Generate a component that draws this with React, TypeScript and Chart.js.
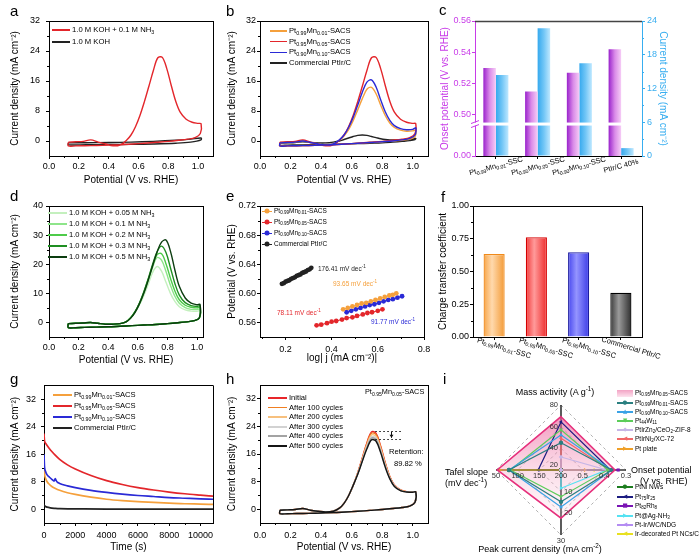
import React, { useEffect, useRef } from "react";
import { Chart, registerables } from "chart.js";

Chart.register(...registerables);

const FONT = "'Liberation Sans', Arial, Helvetica, sans-serif";
Chart.defaults.font.family = FONT;

/* ===================== DATA ===================== */
// CV potential grid (forward scan, then reverse scan)
const cvForwardV = [0.13, 0.18, 0.23, 0.28, 0.33, 0.38, 0.43, 0.48, 0.52, 0.55, 0.58, 0.61, 0.64, 0.67, 0.7, 0.73, 0.76, 0.79, 0.82, 0.85, 0.88, 0.92, 0.96, 1.0, 1.02];
const cvReverseV = [1.015, 0.98, 0.93, 0.87, 0.8, 0.72, 0.64, 0.56, 0.48, 0.4, 0.32, 0.24, 0.18, 0.13, 0.13];

// (a)
const aLegend = ["1.0 M KOH + 0.1 M NH_{3}", "1.0 M KOH"];
const aNH3Fwd = [-0.3, -0.2, -0.1, 0.3, -0.3, -0.8, -1.3, -1.0, 0.2, 1.6, 3.8, 6.8, 10.5, 14.6, 18.8, 22.2, 22.3, 19.3, 14.8, 10.6, 7.7, 5.8, 5.0, 4.7, 4.6];
const aNH3Rev = [2.0, 0.9, 0.5, 0.2, -0.1, -0.35, -0.6, -0.8, -1.0, -1.1, -1.2, -1.25, -1.3, -1.3, -0.3];
const aKohV = [0.13, 0.25, 0.4, 0.55, 0.7, 0.85, 0.95, 1.02, 1.02, 0.95, 0.85, 0.7, 0.55, 0.4, 0.25, 0.13, 0.13];
const aKohJ = [-0.5, -0.45, -0.4, -0.3, -0.1, 0.2, 0.5, 0.8, 0.3, -0.3, -0.6, -0.8, -0.9, -0.95, -1.0, -1.0, -0.5];

// (b)
const bLegend = ["Pt_{0.99}Mn_{0.01}-SACS", "Pt_{0.95}Mn_{0.05}-SACS", "Pt_{0.90}Mn_{0.10}-SACS", "Commercial PtIr/C"];
const b099Fwd = [-0.5, -0.4, -0.3, 0.0, -0.4, -0.8, -1.1, -0.8, 0.2, 1.3, 3.0, 5.4, 8.3, 11.3, 13.8, 14.3, 12.6, 9.6, 6.8, 4.8, 3.6, 2.9, 2.6, 2.7, 2.9];
const b099Rev = [1.2, 0.5, 0.2, 0.0, -0.2, -0.4, -0.6, -0.8, -1.0, -1.1, -1.2, -1.25, -1.3, -1.3, -0.5];
const b090Fwd = [-0.5, -0.4, -0.3, 0.0, -0.4, -0.8, -1.1, -0.8, 0.3, 1.6, 3.6, 6.3, 9.6, 13.0, 15.7, 16.3, 14.4, 11.0, 7.8, 5.5, 4.1, 3.3, 3.0, 3.1, 3.5];
const b090Rev = [1.6, 0.7, 0.3, 0.0, -0.2, -0.4, -0.6, -0.8, -1.0, -1.1, -1.2, -1.25, -1.3, -1.3, -0.5];
const bComFwd = [-0.6, -0.5, -0.4, -0.2, -0.4, -0.5, -0.5, -0.3, 0.0, 0.4, 0.8, 1.2, 1.5, 1.6, 1.5, 1.2, 0.9, 0.6, 0.4, 0.3, 0.3, 0.3, 0.4, 0.6, 0.7];
const bComRev = [0.4, 0.1, -0.1, -0.3, -0.5, -0.6, -0.7, -0.8, -0.9, -1.0, -1.0, -1.05, -1.1, -1.1, -0.6];

// (c)
const cCategories = ["Pt_{0.99}Mn_{0.01}-SSC", "Pt_{0.95}Mn_{0.05}-SSC", "Pt_{0.90}Mn_{0.10}-SSC", "PtIr/C 40%"];
const cOnset = [0.53, 0.515, 0.527, 0.542];
const cCurrent = [14.4, 22.7, 16.5, 1.4];
const cLeftMin = 0.4738; // axis bottom shown as "0.00" (broken axis)
const cBreakAt = 0.4942;
const cLeftTicks = [0.4738, 0.5, 0.52, 0.54, 0.56];
const cRightTicks = [0, 6, 12, 18, 24];

// (d)
const dLegend = ["1.0 M KOH + 0.05 M NH_{3}", "1.0 M KOH + 0.1 M NH_{3}", "1.0 M KOH + 0.2 M NH_{3}", "1.0 M KOH + 0.3 M NH_{3}", "1.0 M KOH + 0.5 M NH_{3}"];
const d005Fwd = [-0.4, -0.3, -0.2, 0.0, -0.3, -0.6, -0.6, -0.4, 0.2, 1.4, 3.3, 5.9, 9.2, 13.0, 17.2, 19.2, 17.6, 13.8, 10.0, 7.2, 5.4, 4.3, 3.9, 3.8, 4.0];
const d01Fwd = [-0.4, -0.3, -0.2, 0.0, -0.3, -0.6, -0.6, -0.4, 0.2, 1.5, 3.5, 6.3, 10.0, 14.4, 19.0, 22.3, 21.4, 17.5, 12.8, 9.0, 6.6, 5.1, 4.5, 4.4, 4.6];
const d02Fwd = [-0.4, -0.3, -0.2, 0.0, -0.3, -0.6, -0.6, -0.4, 0.2, 1.5, 3.6, 6.5, 10.3, 14.8, 19.6, 23.3, 23.6, 20.2, 15.2, 10.8, 7.8, 5.9, 5.2, 5.0, 5.2];
const d03Fwd = [-0.4, -0.3, -0.2, 0.0, -0.3, -0.6, -0.6, -0.4, 0.2, 1.5, 3.6, 6.6, 10.5, 15.0, 20.0, 24.3, 26.2, 24.0, 18.8, 13.4, 9.4, 6.8, 5.8, 5.5, 5.7];
const d05Fwd = [-0.4, -0.3, -0.2, 0.0, -0.3, -0.6, -0.6, -0.4, 0.2, 1.4, 3.4, 6.3, 10.0, 14.5, 19.5, 24.2, 27.6, 28.3, 24.5, 18.0, 12.4, 8.4, 6.6, 6.1, 6.2];
const dRev = [1.5, 0.6, 0.2, -0.1, -0.4, -0.7, -0.9, -1.1, -1.3, -1.5, -1.6, -1.7, -1.8, -1.8, -0.4];

// (e) Tafel plots
const eLegend = ["Pt_{0.99}Mn_{0.01}-SACS", "Pt_{0.95}Mn_{0.05}-SACS", "Pt_{0.90}Mn_{0.10}-SACS", "Commercial PtIr/C"];
const eSlopes = ["93.65 mV dec^{-1}", "78.11 mV dec^{-1}", "91.77 mV dec^{-1}", "176.41 mV dec^{-1}"];
const e099X = [0.45, 0.47, 0.49, 0.51, 0.53, 0.55, 0.57, 0.59, 0.61, 0.63, 0.65, 0.665, 0.68];
const e099Y = [0.578, 0.58, 0.582, 0.584, 0.586, 0.587, 0.589, 0.591, 0.593, 0.595, 0.597, 0.598, 0.6];
const e095X = [0.335, 0.355, 0.38, 0.4, 0.42, 0.445, 0.465, 0.49, 0.51, 0.535, 0.555, 0.575, 0.6, 0.62];
const e095Y = [0.556, 0.557, 0.559, 0.561, 0.562, 0.564, 0.566, 0.567, 0.569, 0.571, 0.573, 0.574, 0.576, 0.578];
const e090X = [0.465, 0.485, 0.505, 0.525, 0.545, 0.565, 0.585, 0.605, 0.625, 0.645, 0.665, 0.685, 0.705];
const e090Y = [0.574, 0.576, 0.578, 0.58, 0.582, 0.584, 0.585, 0.587, 0.589, 0.591, 0.592, 0.594, 0.596];
const eComX = [0.185, 0.193, 0.201, 0.209, 0.217, 0.225, 0.233, 0.241, 0.249, 0.257, 0.265, 0.273, 0.281, 0.289, 0.297, 0.305, 0.312];
const eComY = [0.613, 0.614, 0.616, 0.617, 0.618, 0.62, 0.621, 0.622, 0.624, 0.625, 0.626, 0.628, 0.629, 0.63, 0.632, 0.633, 0.635];

// (f)
const fCategories = ["Pt_{0.99}Mn_{0.01}-SSC", "Pt_{0.95}Mn_{0.05}-SSC", "Pt_{0.90}Mn_{0.10}-SSC", "Commercial PtIr/C"];
const fValues = [0.634, 0.761, 0.647, 0.338];

// (g) chronoamperometry
const gLegend = ["Pt_{0.99}Mn_{0.01}-SACS", "Pt_{0.95}Mn_{0.05}-SACS", "Pt_{0.90}Mn_{0.10}-SACS", "Commercial PtIr/C"];
const gTime = [0, 30, 100, 200, 350, 500, 700, 1000, 1500, 2000, 3000, 4000, 5000, 6000, 7000, 8000, 9000, 10000, 10800];
const gJ099 = [13.0, 10.5, 9.0, 8.0, 7.2, 6.6, 6.1, 5.5, 4.8, 4.3, 3.5, 2.9, 2.5, 2.2, 2.0, 1.8, 1.6, 1.5, 1.4];
const gJ095 = [22.0, 20.0, 19.2, 18.5, 17.6, 16.8, 15.8, 14.5, 12.9, 11.7, 9.8, 8.3, 7.2, 6.3, 5.6, 5.0, 4.5, 4.1, 3.8];
const gTime090 = [0, 30, 100, 200, 350, 500, 650, 720, 780, 850, 1000, 1500, 2000, 3000, 4000, 5000, 6000, 7000, 8000, 9000, 10000, 10800];
const gJ090 = [16.0, 12.5, 11.0, 10.0, 9.3, 8.7, 8.2, 8.9, 8.3, 7.9, 7.5, 6.8, 6.3, 5.5, 4.9, 4.4, 4.0, 3.7, 3.4, 3.2, 3.0, 2.9];
const gTimeCom = [0, 30, 100, 200, 400, 700, 1000, 2000, 4000, 6000, 8000, 10800];
const gJCom = [1.3, 1.1, 0.8, 0.6, 0.4, 0.25, 0.15, 0.1, 0.05, 0.05, 0.05, 0.05];

// (h) cycling
const hLegend = ["Initial", "After 100 cycles", "After 200 cycles", "After 300 cycles", "After 400 cycles", "After 500 cycles"];
const h0Fwd = [-0.3, -0.2, -0.1, 0.2, -0.3, -0.6, -0.8, -0.6, 0.3, 1.7, 3.9, 6.9, 10.6, 14.9, 19.3, 22.4, 22.0, 18.3, 13.5, 9.5, 7.0, 5.6, 5.1, 4.9, 5.0];
const h100Fwd = [-0.3, -0.2, -0.1, 0.2, -0.3, -0.6, -0.8, -0.6, 0.3, 1.7, 3.9, 6.9, 10.5, 14.7, 19.0, 22.0, 21.6, 18.0, 13.3, 9.4, 6.9, 5.5, 5.1, 4.9, 5.0];
const h200Fwd = [-0.3, -0.2, -0.1, 0.2, -0.3, -0.6, -0.8, -0.6, 0.3, 1.7, 3.9, 6.9, 10.4, 14.5, 18.6, 21.5, 21.1, 17.6, 13.0, 9.2, 6.8, 5.5, 5.0, 4.9, 5.0];
const h300Fwd = [-0.3, -0.2, -0.1, 0.2, -0.3, -0.6, -0.8, -0.6, 0.3, 1.7, 3.9, 6.9, 10.3, 14.3, 18.2, 21.0, 20.6, 17.2, 12.8, 9.1, 6.8, 5.4, 5.0, 4.9, 5.0];
const h400Fwd = [-0.3, -0.2, -0.1, 0.2, -0.3, -0.6, -0.8, -0.6, 0.3, 1.7, 3.9, 6.9, 10.2, 14.1, 17.9, 20.6, 20.2, 16.8, 12.5, 9.0, 6.7, 5.4, 5.0, 4.9, 5.0];
const h500Fwd = [-0.3, -0.2, -0.1, 0.2, -0.3, -0.6, -0.8, -0.6, 0.3, 1.7, 3.9, 6.9, 10.1, 13.9, 17.5, 20.1, 19.7, 16.4, 12.2, 8.8, 6.6, 5.4, 5.0, 4.9, 5.0];
const hRev = [2.0, 0.9, 0.5, 0.2, -0.1, -0.35, -0.6, -0.8, -1.0, -1.1, -1.2, -1.25, -1.3, -1.3, -0.3];
const hPeakLevels = [22.7, 20.4];
const hMarkX = [0.755, 0.935];
const hArrowX = 0.86;

// (i) radar
const radarMin = [20, 0.6, 0, 200];
const radarMax = [80, 0.3, 30, 50];
const radarTicks = [[20, 40, 60, 80], [0.5, 0.4, 0.3], [10, 20, 30], [200, 150, 100, 50]];
const radarNames = ["Pt_{0.95}Mn_{0.05}-SACS", "Pt_{0.99}Mn_{0.01}-SACS", "Pt_{0.90}Mn_{0.10}-SACS", "Pt_{44}W_{11}", "PtIrZn_{2}/CeO_{2}-ZIF-8", "PtIrNi_{2}/XC-72", "Pt plate", "PtNi NWs", "Pt_{75}Ir_{25}", "Pt_{82}Rh_{8}", "Pt@Ag-NH_{3}", "Pt-Ir/WC/NDG", "Ir-decorated Pt NCs/C"];
const radarColors = ["#e6307c", "#2a7f80", "#3aa2e6", "#5ccd5a", "#c6b6e6", "#f06868", "#f0a028", "#1d7d1f", "#1c1c80", "#7a14b4", "#55e2f2", "#b48cf2", "#e8e020"];
const radarMass = [69.2, 45.2, 52.4, 57.2, 32, 49.4, 20, 20, 64.4, 20, 20, 20, 20];
const radarOnset = [0.351, 0.366, 0.366, 0.384, 0.39, 0.375, 0.489, 0.384, 0.372, 0.336, 0.39, 0.402, 0.45];
const radarPeak = [22.2, 14.7, 17.1, 12.3, 0, 0, 0, 0, 0, 0, 8.4, 0, 0];
const radarTafel = [53, 80, 80, 83, 200, 200, 59, 80, 147.5, 200, 200, 200, 200];
const radarStyle = ["circle", "circle", "triangle", "triangle", "rectRot", "triangle", "triangle", "circle", "triangle", "rect", "triangle", "triangle", "triangle"];
const radarRot = [0, 0, 0, 180, 0, -90, 90, 0, -90, 0, 90, -90, -90];
const radarGlyph = ["", "●", "▲", "▼", "◆", "◀", "▶", "●", "◀", "■", "▶", "◀", "◀"];

// tick arrays
const cvXTicks = [0, 0.2, 0.4, 0.6, 0.8, 1.0];
const abYTicks = [0, 8, 16, 24, 32];
const dYTicks = [0, 10, 20, 30, 40];
const eXTicks = [0.2, 0.4, 0.6, 0.8];
const eYTicks = [0.56, 0.6, 0.64, 0.68, 0.72];
const fYTicks = [0, 0.25, 0.5, 0.75, 1.0];
const gXTicks = [0, 2000, 4000, 6000, 8000, 10000];
const ghYTicks = [0, 8, 16, 24, 32];

/* ===================== STYLE ===================== */
const RED = "#e3262b";
const ORANGE = "#f5a03c";
const BLUE = "#2a2ad6";
const BLACK = "#222222";
const MAG = "#c83be8";
const SKY = "#38aef0";
const GREENS = ["#c4f0be", "#8ee58a", "#4ecb4a", "#1f8f22", "#0c3d10"];
const HCOL = ["#e8262a", "#f07f22", "#f7c07e", "#d2d2d2", "#a3a3a3", "#151515"];

const TICK = { family: FONT, size: 9 };
const TTL = { family: FONT, size: 10 };
const TLH = 12;

const f0 = (v: number) => String(Math.round(v * 100) / 100);
const f1 = (v: number) => Number(v).toFixed(1);
const f2 = (v: number) => Number(v).toFixed(2);
const plain = (s: string) => s.replace(/[_^]\{([^}]*)\}/g, "$1");

type Box = { x: number; y: number; w: number; h: number };
type Area = { l: number; t: number; r: number; b: number };

const BOX: Box[] = [
  { x: 0, y: 0, w: 225, h: 192 },
  { x: 222, y: 0, w: 215, h: 192 },
  { x: 432, y: 0, w: 268, h: 192 },
  { x: 0, y: 190, w: 225, h: 180 },
  { x: 222, y: 190, w: 215, h: 180 },
  { x: 432, y: 190, w: 268, h: 180 },
  { x: 0, y: 375, w: 225, h: 180 },
  { x: 222, y: 375, w: 215, h: 180 },
  { x: 440, y: 375, w: 260, h: 180 },
];
const AREA: Area[] = [
  { l: 49, t: 21, r: 213, b: 156 },
  { l: 260, t: 21, r: 428, b: 156 },
  { l: 475, t: 21, r: 642, b: 156 },
  { l: 49, t: 206, r: 203, b: 337 },
  { l: 260, t: 206, r: 424, b: 337 },
  { l: 473, t: 206, r: 642, b: 337 },
  { l: 44, t: 385, r: 213, b: 523 },
  { l: 260, t: 385, r: 428, b: 523 },
  { l: 496, t: 405, r: 626, b: 535 },
];

function xLinear(box: Box, area: Area, o: any) {
  const size = box.y + box.h - area.b;
  return {
    type: "linear",
    position: "bottom",
    min: o.min,
    max: o.max,
    afterBuildTicks: (s: any) => {
      s.ticks = o.ticks.map((v: number) => ({ value: v }));
    },
    afterFit: (s: any) => {
      s.height = size;
    },
    ticks: { font: TICK, color: "#000", padding: o.pad ?? 2, maxRotation: 0, autoSkip: false, callback: o.fmt },
    grid: { drawOnChartArea: false, drawTicks: true, tickLength: 3, tickColor: "#000", color: "#000" },
    border: { display: true, color: "#000", width: 1 },
    title: { display: true, text: o.title, font: TTL, color: "#000", padding: { top: 0, bottom: box.y + box.h - o.titleAt - TLH / 2 } },
  };
}

function yLinear(box: Box, area: Area, o: any) {
  const right = o.position === "right";
  const size = right ? box.x + box.w - area.r : area.l - box.x;
  const pad = right ? box.x + box.w - o.titleAt - TLH / 2 : o.titleAt - box.x - TLH / 2;
  const color = o.color || "#000";
  return {
    type: "linear",
    position: right ? "right" : "left",
    min: o.min,
    max: o.max,
    afterBuildTicks: (s: any) => {
      s.ticks = o.ticks.map((v: number) => ({ value: v }));
    },
    afterFit: (s: any) => {
      s.width = size;
    },
    ticks: { font: TICK, color, padding: o.pad ?? 3, autoSkip: false, callback: o.fmt },
    grid: { drawOnChartArea: false, drawTicks: true, tickLength: 3, tickColor: color, color },
    border: { display: true, color, width: 1 },
    title: { display: true, text: o.title, font: TTL, color, padding: { top: pad, bottom: 0 } },
  };
}

function xCategory(box: Box, area: Area) {
  const size = box.y + box.h - area.b;
  return {
    type: "category",
    offset: true,
    afterFit: (s: any) => {
      s.height = size;
    },
    ticks: { display: false },
    grid: { drawOnChartArea: false, drawTicks: true, tickLength: 3, tickColor: "#000", color: "#000", offset: false },
    border: { display: true, color: "#000", width: 1 },
  };
}

function baseOptions(box: Box, area: Area, scales: any, plugins: any = {}, dualY = false) {
  return {
    responsive: false,
    animation: false,
    devicePixelRatio: 1,
    events: [],
    layout: {
      autoPadding: false,
      padding: { left: 0, top: area.t - box.y, right: dualY ? 0 : box.x + box.w - area.r, bottom: 0 },
    },
    plugins: { legend: { display: false }, tooltip: { enabled: false }, ...plugins },
    scales,
  };
}

const px = (v: number) => Math.round(v) + 0.5;

const framePlugin = {
  id: "frame",
  afterDraw(chart: any, _a: any, opts: any) {
    const { ctx, chartArea: a } = chart;
    ctx.save();
    const seg = (x1: number, y1: number, x2: number, y2: number, c: string, w: number) => {
      ctx.strokeStyle = c;
      ctx.lineWidth = w;
      ctx.beginPath();
      ctx.moveTo(x1, y1);
      ctx.lineTo(x2, y2);
      ctx.stroke();
    };
    if (opts.top) seg(a.left, px(a.top), a.right, px(a.top), opts.top, opts.topWidth || 1);
    if (opts.right) seg(px(a.right), a.top, px(a.right), a.bottom, opts.right, 1);
    (opts.minor || []).forEach((id: string) => {
      const s = chart.scales[id];
      if (!s) return;
      const vals = s.ticks.map((t: any) => t.value);
      if (vals.length < 2) return;
      const step = vals[1] - vals[0];
      const mids = [vals[0] - step / 2, ...vals.map((v: number) => v + step / 2)];
      const col = s.options.border.color || "#000";
      mids.forEach((m: number) => {
        if (m <= s.min + 1e-9 || m >= s.max - 1e-9) return;
        const p = px(s.getPixelForValue(m));
        if (s.isHorizontal()) seg(p, a.bottom, p, a.bottom + 2, col, 1);
        else if (s.position === "left") seg(a.left - 2, p, a.left, p, col, 1);
        else seg(a.right, p, a.right + 2, p, col, 1);
      });
    });
    ctx.restore();
  },
};

const breakPlugin = {
  id: "axisBreak",
  afterDatasetsDraw(chart: any, _a: any, opts: any) {
    if (!opts || opts.value === undefined) return;
    const { ctx, chartArea: a } = chart;
    const s = chart.scales[opts.axis];
    const y = s.getPixelForValue(opts.value);
    ctx.save();
    ctx.fillStyle = "#fff";
    ctx.fillRect(a.left + 1, y - 1.5, a.right - a.left - 2, 3);
    ctx.restore();
  },
  afterDraw(chart: any, _a: any, opts: any) {
    if (!opts || opts.value === undefined) return;
    const { ctx, chartArea: a } = chart;
    const s = chart.scales[opts.axis];
    const y = s.getPixelForValue(opts.value);
    ctx.save();
    ctx.fillStyle = "#fff";
    ctx.fillRect(a.left - 4, y - 1.5, 8, 3);
    ctx.strokeStyle = opts.color;
    ctx.lineWidth = 1;
    [-2, 2].forEach((d) => {
      ctx.beginPath();
      ctx.moveTo(a.left - 4, y + d + 1.5);
      ctx.lineTo(a.left + 4, y + d - 1.5);
      ctx.stroke();
    });
    ctx.restore();
  },
};

const markPlugin = {
  id: "peakMark",
  afterDatasetsDraw(chart: any) {
    const { ctx } = chart;
    const xs = chart.scales.x;
    const ys = chart.scales.y;
    ctx.save();
    ctx.strokeStyle = "#111";
    ctx.lineWidth = 1;
    ctx.setLineDash([1.5, 2.5]);
    hPeakLevels.forEach((lv) => {
      const y = px(ys.getPixelForValue(lv));
      ctx.beginPath();
      ctx.moveTo(xs.getPixelForValue(hMarkX[0]), y);
      ctx.lineTo(xs.getPixelForValue(hMarkX[1]), y);
      ctx.stroke();
    });
    ctx.setLineDash([]);
    const ax = px(xs.getPixelForValue(hArrowX));
    const y1 = ys.getPixelForValue(hPeakLevels[0]) + 1;
    const y2 = ys.getPixelForValue(hPeakLevels[1]) - 1;
    ctx.beginPath();
    ctx.moveTo(ax, y1);
    ctx.lineTo(ax, y2);
    ctx.stroke();
    ctx.fillStyle = "#111";
    ctx.beginPath();
    ctx.moveTo(ax - 2, y2 - 3);
    ctx.lineTo(ax + 2, y2 - 3);
    ctx.lineTo(ax, y2);
    ctx.closePath();
    ctx.fill();
    ctx.restore();
  },
};

const radarTickPlugin = {
  id: "radarTicks",
  afterDraw(chart: any) {
    const s = chart.scales.r;
    const ctx = chart.ctx;
    ctx.save();
    ctx.font = `7.5px ${FONT}`;
    ctx.fillStyle = "#333";
    radarTicks.forEach((vals, k) => {
      vals.forEach((v) => {
        const frac = (v - radarMin[k]) / (radarMax[k] - radarMin[k]);
        const p = s.getPointPosition(k, s.getDistanceFromCenterForValue(frac));
        if (k === 0) {
          ctx.textAlign = "right";
          ctx.textBaseline = "middle";
          ctx.fillText(String(v), p.x - 3, p.y + (frac === 0 ? -5 : 0));
        } else if (k === 1) {
          ctx.textAlign = "center";
          ctx.textBaseline = "top";
          ctx.fillText(String(v), p.x, p.y + 2);
        } else if (k === 2) {
          ctx.textAlign = frac >= 0.99 ? "center" : "left";
          ctx.textBaseline = frac >= 0.99 ? "top" : "middle";
          ctx.fillText(String(v), frac >= 0.99 ? p.x : p.x + 3, frac >= 0.99 ? p.y + 2 : p.y);
        } else {
          ctx.textAlign = "center";
          ctx.textBaseline = "top";
          ctx.fillText(String(v), p.x, p.y + 2);
        }
      });
    });
    ctx.restore();
  },
};

function cvData(fwd: number[], rev: number[]) {
  const v = cvForwardV.concat(cvReverseV);
  const j = fwd.concat(rev);
  return v.map((x, i) => ({ x, y: j[i] }));
}
function pts(xs: number[], ys: number[]) {
  return xs.map((x, i) => ({ x, y: ys[i] }));
}
function lineDs(data: any[], color: string, width = 1.4, extra: any = {}) {
  return { data, borderColor: color, backgroundColor: color, borderWidth: width, pointRadius: 0, showLine: true, tension: 0.35, fill: false, ...extra };
}

function barGrad(stopsFor: (i: number) => [number, string][], offsetFrac: number, widthFrac: number) {
  return (ctx: any) => {
    const ch = ctx.chart;
    const i = ctx.dataIndex;
    const stops = stopsFor(i === undefined ? 0 : i);
    const xs = ch.scales.x;
    if (!ch.chartArea || !xs || i === undefined) return stops[0][1];
    const n = ch.data.labels.length;
    const cat = (ch.chartArea.right - ch.chartArea.left) / n;
    const cx = xs.getPixelForValue(i) + offsetFrac * cat;
    const w = widthFrac * cat;
    const g = ch.ctx.createLinearGradient(cx - w / 2, 0, cx + w / 2, 0);
    stops.forEach(([o, c]) => g.addColorStop(o, c));
    return g;
  };
}

const fStops: [number, string][][] = [
  [[0, "#f7a548"], [0.4, "#ffd9ad"], [1, "#f39a35"]],
  [[0, "#f23a3a"], [0.4, "#ff9a9a"], [1, "#ee2a2a"]],
  [[0, "#4646ee"], [0.4, "#9494ff"], [1, "#3a3ae6"]],
  [[0, "#3a3a3a"], [0.4, "#9a9a9a"], [1, "#2e2e2e"]],
];
const fBorders = ["#f08a1a", "#d40000", "#1c1ca0", "#000000"];

function makeConfigs() {
  const cfg: any[] = [];
  // (a)
  {
    const b = BOX[0], a = AREA[0];
    cfg.push({
      type: "scatter",
      data: { datasets: [lineDs(cvData(aNH3Fwd, aNH3Rev), RED), lineDs(pts(aKohV, aKohJ), BLACK)] },
      options: baseOptions(b, a, {
        x: xLinear(b, a, { min: 0, max: 1.1, ticks: cvXTicks, fmt: f1, title: "Potential (V vs. RHE)", titleAt: 180, pad: 2 }),
        y: yLinear(b, a, { min: -4, max: 32, ticks: abYTicks, fmt: f0, title: "Current density (mA cm⁻²)", titleAt: 15, pad: 6 }),
      }, { frame: { top: "#000", right: "#000", minor: ["x", "y"] } }),
      plugins: [framePlugin],
    });
  }
  // (b)
  {
    const b = BOX[1], a = AREA[1];
    cfg.push({
      type: "scatter",
      data: {
        datasets: [
          lineDs(cvData(b090Fwd, b090Rev), BLUE),
          lineDs(cvData(aNH3Fwd, aNH3Rev), RED),
          lineDs(cvData(b099Fwd, b099Rev), ORANGE),
          lineDs(cvData(bComFwd, bComRev), BLACK),
        ],
      },
      options: baseOptions(b, a, {
        x: xLinear(b, a, { min: 0, max: 1.1, ticks: cvXTicks, fmt: f1, title: "Potential (V vs. RHE)", titleAt: 180, pad: 2 }),
        y: yLinear(b, a, { min: -4, max: 32, ticks: abYTicks, fmt: f0, title: "Current density (mA cm⁻²)", titleAt: 232, pad: 1 }),
      }, { frame: { top: "#000", right: "#000", minor: ["x", "y"] } }),
      plugins: [framePlugin],
    });
  }
  // (c)
  {
    const b = BOX[2], a = AREA[2];
    const magStops = (): [number, string][] => [[0, "#9a22cc"], [0.5, "#d98ae8"], [1, "#f6ccf6"]];
    const skyStops = (): [number, string][] => [[0, "#35a9ee"], [0.5, "#72c6f6"], [1, "#bfe8ff"]];
    cfg.push({
      type: "bar",
      data: {
        labels: cCategories.map(plain),
        datasets: [
          { label: "Onset potential", data: cOnset, yAxisID: "yL", backgroundColor: barGrad(magStops, -0.15, 0.3), categoryPercentage: 0.6, barPercentage: 1, borderWidth: 0 },
          { label: "Current density", data: cCurrent, yAxisID: "yR", backgroundColor: barGrad(skyStops, 0.15, 0.3), categoryPercentage: 0.6, barPercentage: 1, borderWidth: 0 },
        ],
      },
      options: baseOptions(b, a, {
        x: xCategory(b, a),
        yL: yLinear(b, a, { min: cLeftMin, max: 0.56, ticks: cLeftTicks, fmt: (v: number) => (v < 0.49 ? "0.00" : f2(v)), title: "Onset potential (V vs. RHE)", titleAt: 445, pad: 1, color: MAG }),
        yR: yLinear(b, a, { position: "right", min: 0, max: 24, ticks: cRightTicks, fmt: f0, title: "Current density (mA cm⁻²)", titleAt: 663, pad: 2, color: SKY }),
      }, { frame: { top: "#444", topWidth: 1.6, minor: ["yR"] }, axisBreak: { axis: "yL", value: cBreakAt, color: MAG } }, true),
      plugins: [framePlugin, breakPlugin],
    });
  }
  // (d)
  {
    const b = BOX[3], a = AREA[3];
    cfg.push({
      type: "scatter",
      data: {
        datasets: [
          lineDs(cvData(d05Fwd, dRev), GREENS[4]),
          lineDs(cvData(d03Fwd, dRev), GREENS[3]),
          lineDs(cvData(d02Fwd, dRev), GREENS[2]),
          lineDs(cvData(d01Fwd, dRev), GREENS[1]),
          lineDs(cvData(d005Fwd, dRev), GREENS[0]),
        ],
      },
      options: baseOptions(b, a, {
        x: xLinear(b, a, { min: 0, max: 1.04, ticks: cvXTicks, fmt: f1, title: "Potential (V vs. RHE)", titleAt: 360, pad: 2.5 }),
        y: yLinear(b, a, { min: -5, max: 40, ticks: dYTicks, fmt: f0, title: "Current density (mA cm⁻²)", titleAt: 15, pad: 3 }),
      }, { frame: { top: "#000", right: "#000", minor: ["x", "y"] } }),
      plugins: [framePlugin],
    });
  }
  // (e)
  {
    const b = BOX[4], a = AREA[4];
    const sd = (xs: number[], ys: number[], c: string) => ({ data: pts(xs, ys), borderColor: c, backgroundColor: c, borderWidth: 1, pointRadius: 2.4, pointBorderWidth: 0, showLine: true, tension: 0 });
    cfg.push({
      type: "scatter",
      data: { datasets: [sd(e099X, e099Y, ORANGE), sd(e095X, e095Y, RED), sd(e090X, e090Y, BLUE), sd(eComX, eComY, BLACK)] },
      options: baseOptions(b, a, {
        x: xLinear(b, a, { min: 0.09, max: 0.8, ticks: eXTicks, fmt: f1, title: "log| j (mA cm⁻²)|", titleAt: 358, pad: 4 }),
        y: yLinear(b, a, { min: 0.54, max: 0.72, ticks: eYTicks, fmt: f2, title: "Potential (V vs. RHE)", titleAt: 232, pad: 1 }),
      }, { frame: { top: "#000", right: "#000", minor: ["x", "y"] } }),
      plugins: [framePlugin],
    });
  }
  // (f)
  {
    const b = BOX[5], a = AREA[5];
    cfg.push({
      type: "bar",
      data: {
        labels: fCategories.map(plain),
        datasets: [
          { data: fValues, backgroundColor: barGrad((i) => fStops[i], 0, 0.5), borderColor: fBorders, borderWidth: 1.3, categoryPercentage: 1, barPercentage: 0.5 },
        ],
      },
      options: baseOptions(b, a, {
        x: xCategory(b, a),
        y: yLinear(b, a, { min: 0, max: 1, ticks: fYTicks, fmt: f2, title: "Charge transfer coefficient", titleAt: 443, pad: 1 }),
      }, { frame: { top: "#000", right: "#000", minor: ["y"] } }),
      plugins: [framePlugin],
    });
  }
  // (g)
  {
    const b = BOX[6], a = AREA[6];
    const gd = (xs: number[], ys: number[], c: string) => lineDs(pts(xs, ys), c, 1.7, { tension: 0, cubicInterpolationMode: "monotone" });
    cfg.push({
      type: "scatter",
      data: { datasets: [gd(gTime, gJ095, RED), gd(gTime090, gJ090, BLUE), gd(gTime, gJ099, ORANGE), gd(gTimeCom, gJCom, BLACK)] },
      options: baseOptions(b, a, {
        x: xLinear(b, a, { min: 0, max: 10800, ticks: gXTicks, fmt: f0, title: "Time (s)", titleAt: 547, pad: 4 }),
        y: yLinear(b, a, { min: -4, max: 36, ticks: ghYTicks, fmt: f0, title: "Current density (mA cm⁻²)", titleAt: 15, pad: 5 }),
      }, { frame: { top: "#000", right: "#000", minor: ["x", "y"] } }),
      plugins: [framePlugin],
    });
  }
  // (h)
  {
    const b = BOX[7], a = AREA[7];
    const fw = [h0Fwd, h100Fwd, h200Fwd, h300Fwd, h400Fwd, h500Fwd];
    const ds = fw.map((f, i) => lineDs(cvData(f, hRev), HCOL[i], 1.4)).reverse();
    cfg.push({
      type: "scatter",
      data: { datasets: ds },
      options: baseOptions(b, a, {
        x: xLinear(b, a, { min: 0, max: 1.1, ticks: cvXTicks, fmt: f1, title: "Potential (V vs. RHE)", titleAt: 547, pad: 4 }),
        y: yLinear(b, a, { min: -4, max: 36, ticks: ghYTicks, fmt: f0, title: "Current density (mA cm⁻²)", titleAt: 232, pad: 1 }),
      }, { frame: { top: "#000", right: "#000", minor: ["x", "y"] } }),
      plugins: [framePlugin, markPlugin],
    });
  }
  // (i) radar
  {
    const b = BOX[8], a = AREA[8];
    const pinkFill = (ctx: any) => {
      const ch = ctx.chart;
      const ar = ch.chartArea;
      if (!ar) return "rgba(236,100,160,0.4)";
      const g = ch.ctx.createLinearGradient(0, ar.top, 0, ar.bottom);
      g.addColorStop(0, "rgba(234,80,145,0.7)");
      g.addColorStop(0.55, "rgba(246,170,200,0.35)");
      g.addColorStop(1, "rgba(255,225,238,0.15)");
      return g;
    };
    const datasets = radarNames.map((name, i) => {
      const raw = [radarMass[i], radarOnset[i], radarPeak[i], radarTafel[i]];
      const vals = raw.map((v, k) => (v - radarMin[k]) / (radarMax[k] - radarMin[k]));
      return {
        label: plain(name),
        data: vals,
        borderColor: radarColors[i],
        backgroundColor: i === 0 ? pinkFill : radarColors[i],
        pointBackgroundColor: radarColors[i],
        pointBorderColor: radarColors[i],
        borderWidth: i === 0 ? 1.6 : 1.2,
        pointRadius: i === 0 ? 0 : 2.2,
        pointBorderWidth: 0,
        pointStyle: radarStyle[i],
        pointRotation: radarRot[i],
        fill: i === 0 ? "origin" : false,
        tension: 0,
      };
    });
    cfg.push({
      type: "radar",
      data: { labels: ["Mass activity", "Onset potential", "Peak current density", "Tafel slope"], datasets },
      options: {
        responsive: false,
        animation: false,
        devicePixelRatio: 1,
        events: [],
        layout: { autoPadding: false, padding: { left: a.l - b.x, top: a.t - b.y, right: b.x + b.w - a.r, bottom: b.y + b.h - a.b } },
        plugins: { legend: { display: false }, tooltip: { enabled: false }, filler: { drawTime: "beforeDatasetsDraw" } },
        scales: {
          r: {
            min: 0,
            max: 1,
            ticks: { display: false, stepSize: 1 / 3 },
            pointLabels: { display: false },
            grid: { color: "#a8a8a8", lineWidth: 0.9 },
            border: { dash: [3, 3] },
            angleLines: { color: "#333", lineWidth: 1.6 },
          },
        },
      },
      plugins: [radarTickPlugin],
    });
  }
  return cfg;
}

/* ===================== HTML helpers ===================== */
function Rich({ text }: { text: string }) {
  const parts = text.split(/([_^]\{[^}]*\})/g).filter((p) => p !== "");
  return (
    <>
      {parts.map((p, i) => {
        if (p.startsWith("_{")) return <span key={i} style={{ fontSize: "0.7em", verticalAlign: "-0.3em", lineHeight: 0 }}>{p.slice(2, -1)}</span>;
        if (p.startsWith("^{")) return <span key={i} style={{ fontSize: "0.7em", verticalAlign: "0.5em", lineHeight: 0 }}>{p.slice(2, -1)}</span>;
        return <span key={i}>{p}</span>;
      })}
    </>
  );
}

function Row({ x, y, w, color, lw = 1.6, text, fs, glyph, glyphSize = 6, dot, fill }: any) {
  return (
    <div style={{ position: "absolute", left: x, top: y - 6, height: 12, display: "flex", alignItems: "center", whiteSpace: "nowrap", fontFamily: FONT, fontSize: fs, color: "#000", lineHeight: "12px" }}>
      <div style={{ position: "relative", width: w, height: fill ? 7 : lw, background: fill || color, marginRight: 2, flex: "none" }}>
        {dot ? <div style={{ position: "absolute", left: "50%", top: "50%", width: dot, height: dot, borderRadius: "50%", background: color, transform: "translate(-50%,-50%)" }} /> : null}
        {glyph ? <span style={{ position: "absolute", left: "50%", top: "50%", transform: "translate(-50%,-50%)", fontSize: glyphSize, lineHeight: 1, color, fontFamily: "'DejaVu Sans', sans-serif" }}>{glyph}</span> : null}
      </div>
      <span><Rich text={text} /></span>
    </div>
  );
}

function Txt({ x, y, text, fs, color = "#000", align = "left" }: any) {
  const tx = align === "center" ? "translate(-50%,-50%)" : "translate(0,-50%)";
  return (
    <div style={{ position: "absolute", left: x, top: y, transform: tx, whiteSpace: "nowrap", fontFamily: FONT, fontSize: fs, color, lineHeight: 1 }}>
      <Rich text={text} />
    </div>
  );
}

function RotLabel({ x, y, text, deg, fs }: any) {
  return (
    <div style={{ position: "absolute", left: x, top: y, transform: `translate(-50%,-50%) rotate(${deg}deg)`, whiteSpace: "nowrap", fontFamily: FONT, fontSize: fs, color: "#000", lineHeight: 1 }}>
      <Rich text={text} />
    </div>
  );
}

const LETTERS: [string, number, number][] = [
  ["a", 10, 3], ["b", 226, 3], ["c", 439, 2], ["d", 10, 188], ["e", 226, 188], ["f", 441, 189], ["g", 10, 371], ["h", 226, 371], ["i", 443, 371],
];

export default function App() {
  const refs = useRef<(HTMLCanvasElement | null)[]>([]);
  useEffect(() => {
    const cfgs = makeConfigs();
    const charts = cfgs.map((c, i) => new Chart(refs.current[i] as HTMLCanvasElement, c));
    return () => charts.forEach((ch) => ch.destroy());
  }, []);

  const cArea = AREA[2];
  const fArea = AREA[5];
  const cCat = (cArea.r - cArea.l) / cCategories.length;
  const fCat = (fArea.r - fArea.l) / fCategories.length;
  const eColors = [ORANGE, RED, BLUE, BLACK];
  const eSlopePos = [[333, 284], [277, 313], [371, 322], [318, 269]];
  const topGroupY = [393, 403, 412, 421, 430, 439, 449];
  const botGroupY = [487, 497, 506, 516, 525, 534];

  return (
    <div style={{ position: "absolute", left: 0, top: 0, width: 700, height: 555, background: "#fff", overflow: "hidden", fontFamily: FONT }}>
      {BOX.map((b, i) => (
        <canvas
          key={i}
          ref={(el) => {
            refs.current[i] = el;
          }}
          width={b.w}
          height={b.h}
          style={{ position: "absolute", left: b.x, top: b.y, width: b.w, height: b.h }}
        />
      ))}

      {LETTERS.map(([t, x, y]) => (
        <div key={t} style={{ position: "absolute", left: x, top: y, fontSize: 15, lineHeight: "15px", fontFamily: FONT, color: "#000" }}>{t}</div>
      ))}

      {aLegend.map((t, i) => (
        <Row key={t} x={52} y={30 + i * 12} w={18} color={[RED, BLACK][i]} text={t} fs={7.7} />
      ))}
      {bLegend.map((t, i) => (
        <Row key={t} x={270} y={31 + i * 10.7} w={17} color={[ORANGE, RED, BLUE, BLACK][i]} text={t} fs={7.6} />
      ))}
      {cCategories.map((t, i) => (
        <RotLabel key={t} x={cArea.l + (i + 0.5) * cCat} y={166} text={t} deg={-15} fs={7.4} />
      ))}
      {dLegend.map((t, i) => (
        <Row key={t} x={48} y={213 + i * 11} w={19} color={GREENS[i]} text={t} fs={7.6} />
      ))}
      {eLegend.map((t, i) => (
        <Row key={t} x={262} y={211 + i * 11} w={10} lw={1} dot={5} color={eColors[i]} text={t} fs={6.5} />
      ))}
      {eSlopes.map((t, i) => (
        <Txt key={t} x={eSlopePos[i][0]} y={eSlopePos[i][1]} text={t} fs={6.5} color={eColors[i]} />
      ))}
      {fCategories.map((t, i) => (
        <RotLabel key={t} x={fArea.l + (i + 0.5) * fCat + 10} y={348} text={t} deg={17} fs={7.5} />
      ))}
      {gLegend.map((t, i) => (
        <Row key={t} x={53} y={395 + i * 11} w={19} lw={2} color={[ORANGE, RED, BLUE, BLACK][i]} text={t} fs={7.6} />
      ))}
      {hLegend.map((t, i) => (
        <Row key={t} x={268} y={398 + i * 9.6} w={19} lw={1.8} color={HCOL[i]} text={t} fs={7.6} />
      ))}
      <Txt x={365} y={392} text="Pt_{0.95}Mn_{0.05}-SACS" fs={7.3} />
      <Txt x={389} y={452} text="Retention:" fs={7.6} />
      <Txt x={394} y={464} text="89.82 %" fs={7.6} />
      <Txt x={555} y={392} text="Mass activity (A g^{-1})" fs={9} align="center" />
      <Txt x={540} y={549} text="Peak current density (mA cm^{-2})" fs={9} align="center" />
      <Txt x={631} y={470} text="Onset potential" fs={9} />
      <Txt x={640} y={481} text="(V vs. RHE)" fs={9} />
      <Txt x={445} y={472} text="Tafel slope" fs={9} />
      <Txt x={445} y={483} text="(mV dec^{-1})" fs={9} />
      {radarNames.map((t, i) => {
        const y = i < 7 ? topGroupY[i] : botGroupY[i - 7];
        if (i === 0) return <Row key={t} x={617} y={y} w={16} fill="linear-gradient(#f3a3c4,#fde3ee)" color={radarColors[0]} text={t} fs={6.5} />;
        return <Row key={t} x={617} y={y} w={16} lw={1.2} color={radarColors[i]} glyph={radarGlyph[i]} glyphSize={5.5} text={t} fs={6.5} />;
      })}
    </div>
  );
}
